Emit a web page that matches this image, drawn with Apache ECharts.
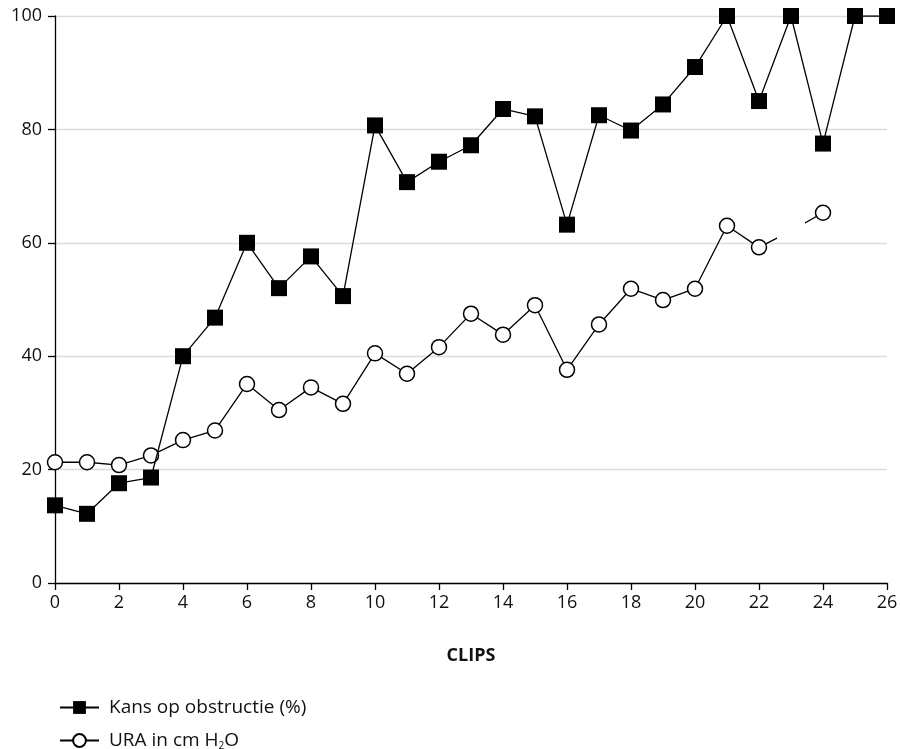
<!DOCTYPE html>
<html>
<head>
<meta charset="utf-8">
<script src="https://cdn.jsdelivr.net/npm/echarts@6/dist/echarts.min.js"></script>
<style>
  html, body { margin: 0; padding: 0; background: #fff; }
  #chart { width: 902px; height: 749px; }
</style>
</head>
<body>
<div id="chart"></div>
<script>
var clips = [0, 1, 2, 3, 4, 5, 6, 7, 8, 9, 10, 11, 12, 13, 14, 15, 16, 17, 18, 19, 20, 21, 22, 23, 24, 25, 26];
var kans = [13.7, 12.2, 17.6, 18.6, 40.0, 46.8, 60.0, 52.0, 57.6, 50.6, 80.7, 70.7, 74.3, 77.2, 83.6, 82.3, 63.2, 82.5, 79.8, 84.4, 91.0, 100, 85.0, 100, 77.5, 100, 100];
// clip 23 has no visible marker; the line passes behind a blank patch there
var ura = [21.3, 21.3, 20.8, 22.5, 25.2, 26.9, 35.1, 30.5, 34.5, 31.6, 40.5, 36.9, 41.6, 47.5, 43.8, 49.0, 37.6, 45.6, 51.9, 49.9, 51.9, 63.0, 59.2, 62.1, 65.3, null, null];
var hiddenClip = 23;
var yTicks = [0, 20, 40, 60, 80, 100];

var font = 'Open Sans';

function pairs(values) {
    return clips.map(function (c, i) { return [c, values[i]]; });
}

var uraData = pairs(ura).map(function (p) {
    if (p[0] === hiddenClip) {
        return {
            value: p,
            symbol: 'rect',
            symbolSize: [28, 18],
            itemStyle: { color: '#fff', borderWidth: 0 }
        };
    }
    return p;
});

var option = {
    animation: false,
    backgroundColor: '#fff',
    grid: { left: 55, right: 15, top: 16, bottom: 166 },
    legend: {
        orient: 'vertical',
        left: 59,
        top: 698,
        height: 60,
        padding: 0,
        itemWidth: 39,
        itemHeight: 16,
        itemGap: 14,
        textStyle: {
            fontFamily: font, fontSize: 19, color: '#111',
            padding: [0, 0, 0, 5],
            rich: {
                sub: { fontFamily: font, fontSize: 10, color: '#111', padding: [12, 0, 0, 0] }
            }
        },
        formatter: function (name) {
            return name === 'URA in cm H2O' ? 'URA in cm H{sub|2}O' : name;
        },
        data: ['Kans op obstructie (%)', 'URA in cm H2O']
    },
    xAxis: {
        type: 'value',
        min: 0,
        max: 26,
        interval: 2,
        name: 'CLIPS',
        nameLocation: 'middle',
        nameGap: 64,
        nameTextStyle: { fontFamily: font, fontSize: 18, fontWeight: 'bold', color: '#111' },
        axisLine: { lineStyle: { color: '#000', width: 1.3 } },
        axisTick: { length: 7, lineStyle: { color: '#000', width: 1.3 } },
        axisLabel: { fontFamily: font, fontSize: 18, color: '#111', margin: 11 },
        splitLine: { show: false }
    },
    yAxis: {
        type: 'value',
        min: yTicks[0],
        max: yTicks[yTicks.length - 1],
        interval: yTicks[1] - yTicks[0],
        axisLine: { show: true, lineStyle: { color: '#000', width: 1.3 } },
        axisTick: { show: true, length: 7, lineStyle: { color: '#000', width: 1.3 } },
        axisLabel: { fontFamily: font, fontSize: 18, color: '#111', margin: 13 },
        splitLine: { lineStyle: { color: '#dcdcdc', width: 1.3 } }
    },
    series: [
        {
            name: 'Kans op obstructie (%)',
            type: 'line',
            data: pairs(kans),
            symbol: 'rect',
            symbolSize: 16,
            lineStyle: { color: '#000', width: 1.3 },
            itemStyle: { color: '#000', borderWidth: 0 },
            z: 3
        },
        {
            name: 'URA in cm H2O',
            type: 'line',
            data: uraData,
            symbol: 'circle',
            symbolSize: 15,
            showAllSymbol: true,
            lineStyle: { color: '#000', width: 1.3 },
            itemStyle: { color: '#fff', borderColor: '#000', borderWidth: 1.5 },
            z: 2
        }
    ]
};

var myChart = echarts.init(document.getElementById('chart'));
myChart.setOption(option);
</script>
</body>
</html>
